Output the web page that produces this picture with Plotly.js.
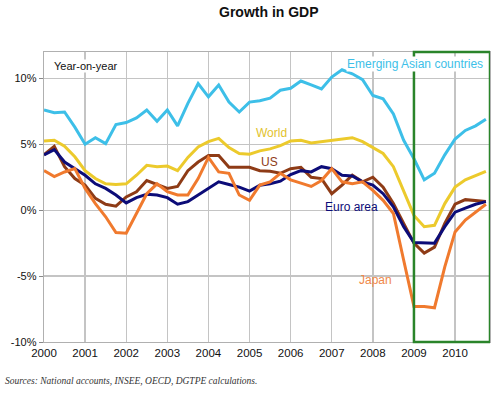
<!DOCTYPE html>
<html>
<head>
<meta charset="utf-8">
<script src="https://cdn.plot.ly/plotly-3.0.1.min.js"></script>
<style>html,body{margin:0;padding:0;background:#fff;}#chart{width:500px;height:396px;}</style>
</head>
<body>
<div id="chart"></div>
<script>
// Quarterly observations, 2000Q1 .. 2010Q4
const quarters = [
  "2000Q1","2000Q2","2000Q3","2000Q4","2001Q1","2001Q2","2001Q3","2001Q4",
  "2002Q1","2002Q2","2002Q3","2002Q4","2003Q1","2003Q2","2003Q3","2003Q4",
  "2004Q1","2004Q2","2004Q3","2004Q4","2005Q1","2005Q2","2005Q3","2005Q4",
  "2006Q1","2006Q2","2006Q3","2006Q4","2007Q1","2007Q2","2007Q3","2007Q4",
  "2008Q1","2008Q2","2008Q3","2008Q4","2009Q1","2009Q2","2009Q3","2009Q4",
  "2010Q1","2010Q2","2010Q3","2010Q4"
];
const emergingAsia = [7.6,7.4,7.45,6.3,5.0,5.5,5.05,6.5,6.65,7.0,7.6,6.75,7.6,6.4,8.1,9.6,8.6,9.5,8.2,7.45,8.2,8.3,8.5,9.1,9.25,9.8,9.5,9.2,10.1,10.65,10.35,9.9,8.7,8.45,7.3,5.3,3.9,2.3,2.8,4.2,5.4,6.05,6.4,6.9];
const world        = [5.25,5.3,4.85,4.05,3.0,2.4,2.0,1.95,2.0,2.65,3.4,3.3,3.35,3.0,4.0,4.8,5.2,5.45,4.75,4.3,4.25,4.5,4.65,4.9,5.25,5.3,5.1,5.2,5.3,5.4,5.5,5.2,4.75,4.3,3.3,1.5,-0.4,-1.25,-1.15,0.5,1.75,2.3,2.6,2.95];
const us           = [4.2,4.85,3.3,2.4,1.9,0.9,0.45,0.3,1.0,1.4,2.25,1.95,1.65,1.8,3.0,3.65,4.15,4.15,3.25,3.25,3.25,3.0,2.95,2.8,3.15,3.25,2.5,2.4,1.25,1.9,2.65,2.15,2.5,1.75,0.5,-1.0,-2.5,-3.25,-2.8,-1.0,0.45,0.8,0.7,0.65];
const euroArea     = [4.2,4.6,3.65,3.15,2.65,2.0,1.65,1.15,0.55,0.95,1.2,1.15,0.95,0.45,0.65,1.15,1.65,2.15,1.95,1.75,1.45,1.9,2.0,2.2,2.7,3.0,2.9,3.3,3.15,2.65,2.6,2.15,1.9,1.25,0.25,-1.25,-2.45,-2.5,-2.5,-1.25,-0.15,0.15,0.45,0.65];
const japan        = [3.0,2.55,2.9,3.15,1.65,0.5,-0.5,-1.7,-1.75,-0.25,1.25,2.0,1.4,1.15,1.15,2.4,4.0,2.9,2.8,1.15,0.75,1.9,2.15,2.8,2.3,2.05,1.8,2.25,3.15,2.15,2.0,2.15,1.5,0.75,-0.25,-3.8,-7.3,-7.3,-7.4,-4.3,-1.65,-0.75,-0.15,0.45];

const yearTicks = [2000,2001,2002,2003,2004,2005,2006,2007,2008,2009,2010];
const yearLabels = ["2000","2001","2002","2003","2004","2005","2006","2007","2008","2009","2010"];
const pctTicks = [-10,-5,0,5,10];
const pctLabels = ["-10%","-5%","0%","5%","10%"];

const xs = quarters.map(q => parseInt(q.slice(0,4)) + (parseInt(q.slice(5)) - 1) / 4);

function tr(name, y, color) {
  return {x: xs, y: y, name: name, type: 'scatter', mode: 'lines',
          line: {color: color, width: 3}, hoverinfo: 'skip'};
}
const data = [
  tr('Emerging Asian countries', emergingAsia, '#3dbfe8'),
  tr('World', world, '#ecca2c'),
  tr('US', us, '#8e3b16'),
  tr('Euro area', euroArea, '#0c0c78'),
  tr('Japan', japan, '#f07a2e')
];

const F = 'Arial, "Liberation Sans", sans-serif';
function lab(text, x, y, color, size, bg) {
  return {text: text, xref: 'paper', yref: 'paper', x: x, y: y, xanchor: 'center', yanchor: 'middle',
          showarrow: false, font: {family: F, size: size, color: color},
          bgcolor: bg || 'rgba(0,0,0,0)', borderpad: 0};
}

const layout = {
  width: 500, height: 396,
  margin: {l: 44, r: 10, t: 52, b: 54},
  paper_bgcolor: '#ffffff', plot_bgcolor: '#ffffff',
  showlegend: false,
  title: {text: '<b>Growth in GDP</b>', x: 0.504, xanchor: 'center', y: 0.969, yanchor: 'middle',
          xref: 'paper', font: {family: F, size: 14, color: '#111'}},
  xaxis: {range: [2000, 2010.85], tickvals: yearTicks, ticktext: yearLabels,
          showgrid: true, gridcolor: '#c4c4c4', gridwidth: 1.3,
          showline: true, linecolor: '#b0b0b0', linewidth: 1.3, mirror: true,
          zeroline: false, ticks: '', tickfont: {family: F, size: 11.5, color: '#111'}},
  yaxis: {range: [-10, 12], tickvals: pctTicks, ticktext: pctLabels,
          showgrid: true, gridcolor: '#c4c4c4', gridwidth: 1.3,
          showline: true, linecolor: '#b0b0b0', linewidth: 1.3, mirror: true,
          zeroline: false, ticks: 'outside', ticklen: 4, tickcolor: '#888',
          tickfont: {family: F, size: 11, color: '#111'}},
  shapes: [
    {type: 'rect', xref: 'x', yref: 'paper', x0: 2009, x1: 2010.85, y0: 0, y1: 1,
     line: {color: '#2a842a', width: 2.5}, fillcolor: 'rgba(0,0,0,0)', layer: 'above'}
  ],
  annotations: [
    lab('Year-on-year', 0.094, 0.952, '#111', 11, '#ffffff'),
    lab('Emerging Asian countries', 0.832, 0.957, '#3dbfe8', 12, '#ffffff'),
    lab('World', 0.509, 0.721, '#e2c22c', 12),
    lab('US', 0.5056, 0.621, '#8e3b16', 12),
    lab('Euro area', 0.689, 0.4655, '#0c0c78', 12),
    lab('Japan', 0.743, 0.214, '#f0884a', 12),
    {text: '<i>Sources: National accounts, INSEE, OECD, DGTPE calculations.</i>', xref: 'paper', yref: 'paper',
     x: -0.092, y: -0.134, xanchor: 'left', yanchor: 'middle', showarrow: false,
     font: {family: '"Liberation Serif", "DejaVu Serif", serif', size: 9.5, color: '#333'}}
  ]
};

Plotly.newPlot('chart', data, layout, {staticPlot: true, displayModeBar: false});
</script>
</body>
</html>
